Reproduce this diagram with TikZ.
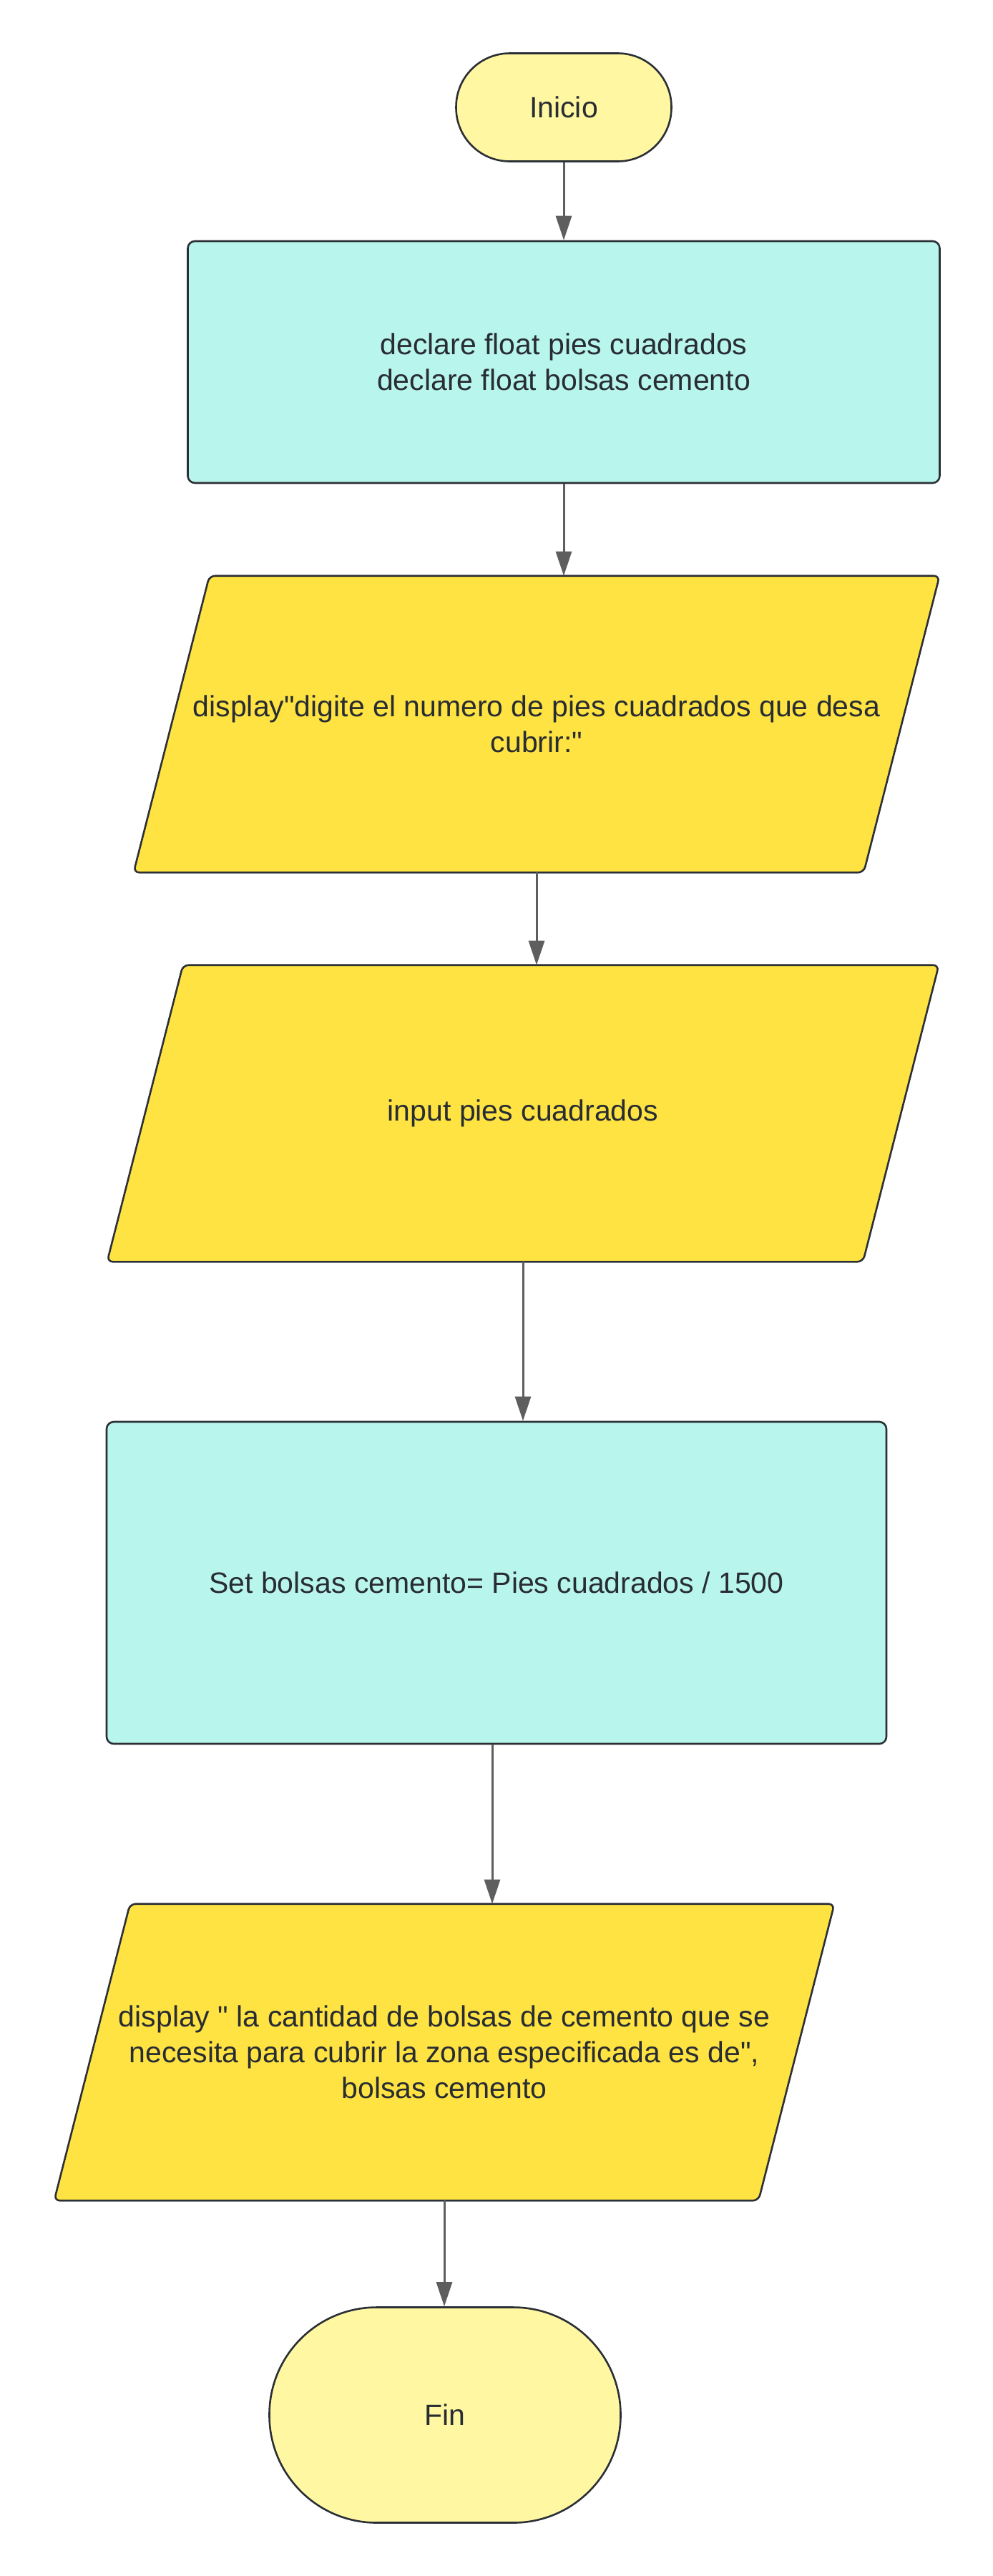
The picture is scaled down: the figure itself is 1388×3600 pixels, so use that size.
\documentclass[tikz,border=0pt]{standalone}
\usepackage{fontspec}
\setmainfont{Liberation Sans}[Ligatures=TeXOff]
\usepackage{tikz}
\usetikzlibrary{arrows.meta,backgrounds}
\definecolor{borde}{HTML}{2B2F36}
\definecolor{cian}{HTML}{B8F5EC}
\definecolor{amarillo}{HTML}{FFE342}
\definecolor{crema}{HTML}{FFF7A1}
\definecolor{gris}{HTML}{5E5E5E}
\definecolor{texto}{HTML}{282C33}
\tikzset{
  caja/.style={line width=2.6pt,text=texto,align=center,font=\fontsize{41}{50}\selectfont},
  term/.style={caja,draw=borde,fill=crema},
  proc/.style={caja,draw=borde,fill=cian,rounded corners=10pt},
  io/.style={caja,minimum height=412pt},
  para/.style={draw=borde,fill=amarillo,line width=2.6pt,rounded corners=8pt},
  flecha/.style={draw=gris,line width=3pt,-{Triangle[length=34pt,width=22pt]}}
}
\begin{document}
\begin{tikzpicture}[x=1pt,y=1pt]
                      \useasboundingbox (0,0) rectangle (1388,-3600);
                      \node[term,rounded corners=75pt,minimum width=301pt,minimum height=151pt](ini)at(788,-150){Inicio};
                      \node[proc,minimum width=1051pt,minimum height=338pt](decl)at(788,-506){declare float pies cuadrados\\declare float bolsas cemento};
                      \node[io,minimum width=1018pt](disp)at(750,-1012){display"digite el numero de pies cuadrados que desa\\cubrir:"};
                      \node[io,minimum width=1054pt](inp)at(731,-1556){input pies cuadrados};
                      \node[proc,minimum width=1090pt,minimum height=450pt](calc)at(694,-2212){Set bolsas cemento= Pies cuadrados / 1500};
                      \node[io,minimum width=982pt](res)at(621,-2868){display " la cantidad de bolsas de cemento que se\\necesita para cubrir la zona especificada es de",\\bolsas cemento};
                      \node[term,rounded corners=150pt,minimum width=491pt,minimum height=301pt](fin)at(622,-3375){Fin};
                      \begin{scope}[on background layer]
                      \foreach \n in {disp,inp,res}
                        \draw[para] ([xshift=53pt]\n.north west) -- ([xshift=53pt]\n.north east) -- ([xshift=-53pt]\n.south east) -- ([xshift=-53pt]\n.south west) -- cycle;
                      \end{scope}
                      \draw[flecha] (ini.south) -- (decl.north);
                      \draw[flecha] (decl.south) -- (decl.south |- disp.north);
                      \draw[flecha] (disp.south) -- (disp.south |- inp.north);
                      \draw[flecha] (inp.south) -- (inp.south |- calc.north);
                      \draw[flecha] ([xshift=-6pt]calc.south) -- ([xshift=-6pt]calc.south |- res.north);
                      \draw[flecha] (res.south) -- (res.south |- fin.north);
                  \end{tikzpicture}
\end{document}
